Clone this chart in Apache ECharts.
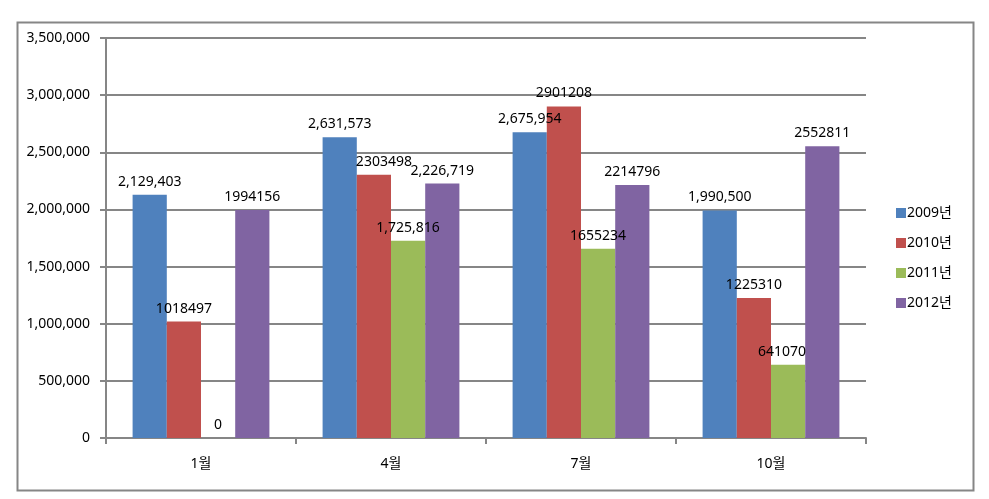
<!DOCTYPE html>
<html><head><meta charset="utf-8">
<script src="https://cdn.jsdelivr.net/npm/echarts@6/dist/echarts.min.js"></script>
<style>html,body{margin:0;padding:0;background:#fff}#c{width:989px;height:499px}</style>
</head><body><div id="c"></div>
<script>
var categories = ['1월', '4월', '7월', '10월'];
var seriesNames = ['2009년', '2010년', '2011년', '2012년'];
var v2009 = [2129403, 2631573, 2675954, 1990500];
var v2010 = [1018497, 2303498, 2901208, 1225310];
var v2011 = [0, 1725816, 1655234, 641070];
var v2012 = [1994156, 2226719, 2214796, 2552811];
var l2009 = ['2,129,403', '2,631,573', '2,675,954', '1,990,500'];
var l2010 = ['1018497', '2303498', '2901208', '1225310'];
var l2011 = ['0', '1,725,816', '1655234', '641070'];
var l2012 = ['1994156', '2,226,719', '2214796', '2552811'];
var colors = ['#4F81BD', '#C0504D', '#9BBB59', '#8064A2'];
var yTicks = ['0', '500,000', '1,000,000', '1,500,000', '2,000,000', '2,500,000', '3,000,000', '3,500,000'];

var FONT = '"Noto Sans", "Noto Sans CJK KR", sans-serif';
var values = [v2009, v2010, v2011, v2012];
var labels = [l2009, l2010, l2011, l2012];
var labelOffsets = { '1-1': [10, 0], '2-3': [-6, 0] };

var chart = echarts.init(document.getElementById('c'), null, {renderer: 'canvas'});
chart.setOption({
  animation: false,
  color: colors,
  graphic: [{
    type: 'rect', left: 15, top: 20, z: -1,
    shape: {width: 956, height: 468},
    style: {fill: 'none', stroke: '#868686', lineWidth: 2}
  }],
  grid: {left: 106, top: 38, right: 123, bottom: 61, containLabel: false},
  legend: {
    orient: 'vertical', left: 891, top: 201,
    itemWidth: 10, itemHeight: 10, itemGap: 16,
    icon: 'rect',
    textStyle: {fontFamily: FONT, fontSize: 14, color: '#000', padding: [0, 0, 0, -4]},
    data: seriesNames
  },
  xAxis: {
    type: 'category', data: categories,
    axisLine: {lineStyle: {color: '#868686', width: 2}},
    axisTick: {show: true, length: 6, lineStyle: {color: '#868686', width: 2}},
    axisLabel: {fontFamily: FONT, fontSize: 14, color: '#000', margin: 19}
  },
  yAxis: {
    type: 'value', min: 0, max: 3500000, interval: 500000,
    axisLine: {show: true, lineStyle: {color: '#868686', width: 2}},
    axisTick: {show: true, length: 6, lineStyle: {color: '#868686', width: 2}},
    splitLine: {lineStyle: {color: '#868686', width: 2}},
    axisLabel: {fontFamily: FONT, fontSize: 14, color: '#000', margin: 16,
      formatter: function (v) { return yTicks[Math.round(v / 500000)]; }}
  },
  series: seriesNames.map(function (name, si) {
    return {
      name: name, type: 'bar',
      barGap: '0%', barCategoryGap: '28%',
      data: values[si].map(function (v, ci) {
        var d = {value: v};
        var off = labelOffsets[si + '-' + ci];
        if (off) d.label = {offset: off};
        return d;
      }),
      label: {
        show: true, position: 'top', distance: 6,
        fontFamily: FONT, fontSize: 14, color: '#000',
        formatter: function (p) { return labels[si][p.dataIndex]; }
      }
    };
  })
});
</script></body></html>
